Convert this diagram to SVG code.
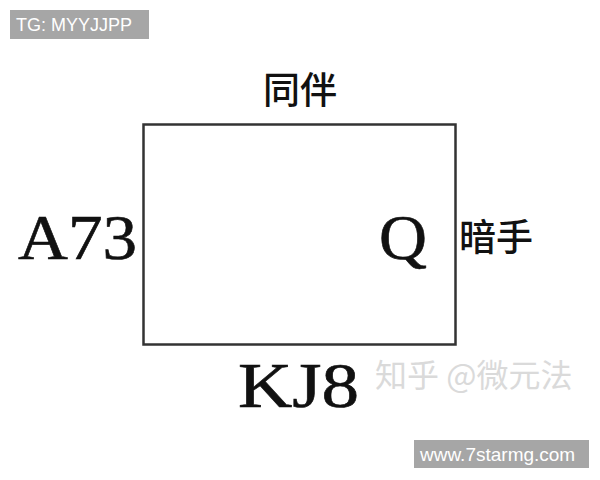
<svg xmlns="http://www.w3.org/2000/svg" width="600" height="480" viewBox="0 0 600 480">
<style>
.card{font-family:"Liberation Serif","Times New Roman",serif;font-size:63px;fill:#111;stroke:#111;stroke-width:0.6}
.cjk{font-family:"Noto Sans CJK SC","Noto Sans",sans-serif;font-size:37px;fill:#111;font-weight:500}
.tag{font-family:"Liberation Sans",Arial,sans-serif;fill:#fff}
</style>
<rect width="600" height="480" fill="#fff"/>
<g id="tg"><rect x="10" y="10" width="139" height="29" fill="#a6a6a6"/><text class="tag" x="16" y="31" font-size="18">TG: MYYJJPP</text></g>
<g id="table"><rect x="143.5" y="124.5" width="312" height="220" fill="none" stroke="#333" stroke-width="2.5"/></g>
<g id="north"><text class="cjk" x="300" y="104" text-anchor="middle">同伴</text></g>
<g id="west"><text class="card" x="18" y="259" textLength="119" lengthAdjust="spacingAndGlyphs">A73</text></g>
<g id="east-card"><text class="card" x="379" y="259" textLength="48" lengthAdjust="spacingAndGlyphs">Q</text></g>
<g id="east"><text class="cjk" x="459" y="251">暗手</text></g>
<g id="south"><text class="card" x="238" y="407" textLength="121" lengthAdjust="spacingAndGlyphs">KJ8</text></g>
<g id="watermark"><text x="375" y="387" font-family="Noto Sans CJK SC,sans-serif" font-size="32" fill="#dadada">知乎 @微元法</text></g>
<g id="site"><rect x="414" y="440" width="175" height="28" fill="#a6a6a6"/><text class="tag" x="420" y="461" font-size="19">www.7starmg.com</text></g>
</svg>
